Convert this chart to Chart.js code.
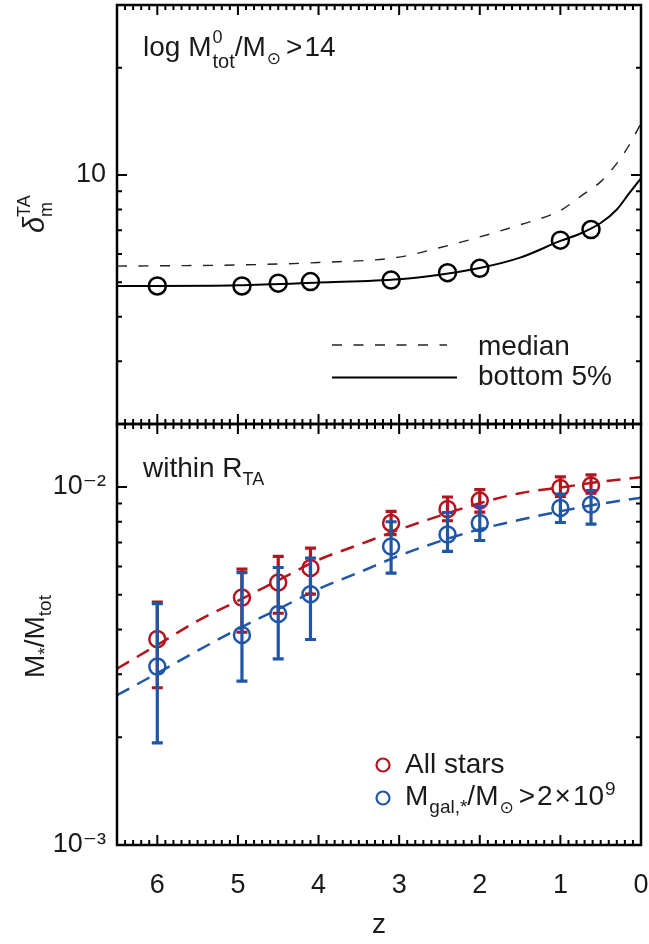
<!DOCTYPE html>
<html>
<head>
<meta charset="utf-8">
<script src="https://cdn.jsdelivr.net/npm/chart.js@4.4.1/dist/chart.umd.min.js"></script>
<style>
html, body { margin: 0; padding: 0; background: #fff; }
#wrap { position: relative; width: 649px; height: 944px; overflow: hidden; }
#wrap canvas { position: absolute; left: 0; }
#topPanel { top: 0; }
#botPanel { top: 420px; }
</style>
</head>
<body>
<div id="wrap">
  <canvas id="topPanel" width="649" height="430"></canvas>
  <canvas id="botPanel" width="649" height="524"></canvas>
</div>
<script>
var FONT = '"Liberation Sans", Arial, "DejaVu Sans", sans-serif';
var INK = '#1a1a1a';
var RED = '#b3141d', BLUE = '#1f56a8';

// snapshot redshifts (shared by both panels)
var zSnap = [6.0, 4.95, 4.5, 4.1, 3.1, 2.4, 2.0, 1.0, 0.62];
var zTicks = [0, 1, 2, 3, 4, 5, 6];

// top panel: turnaround overdensity
var deltaBottom5 = [4.88, 4.88, 4.97, 5.02, 5.07, 5.32, 5.47, 6.56, 7.03];
var zCurve = [6.5, 6, 5, 4, 3, 2.5, 2, 1.5, 1, 0.75, 0.5, 0.3, 0.15, 0];
var medianCurve = [5.55, 5.56, 5.59, 5.68, 5.88, 6.25, 6.70, 7.25, 7.95, 8.71, 9.58, 10.78, 12.1, 13.96];
var bottomCurve = [4.88, 4.88, 4.90, 4.99, 5.10, 5.25, 5.48, 5.86, 6.53, 6.85, 7.33, 8.0, 8.86, 9.79];
var deltaTicks = [10];

// bottom panel: stellar mass fraction within R_TA
var allStars   = [0.00376, 0.00491, 0.00541, 0.00594, 0.00793, 0.00868, 0.00917, 0.00994, 0.01010];
var allStarsHi = [0.00477, 0.00590, 0.00640, 0.00675, 0.00855, 0.00938, 0.00983, 0.01067, 0.01082];
var allStarsLo = [0.00275, 0.00393, 0.00444, 0.00502, 0.00736, 0.00805, 0.00851, 0.00941, 0.00962];
var galStars   = [0.00315, 0.00386, 0.00442, 0.00502, 0.00682, 0.00737, 0.00793, 0.00874, 0.00892];
var galStarsHi = [0.00472, 0.00577, 0.00596, 0.00633, 0.00800, 0.00849, 0.00883, 0.00956, 0.00978];
var galStarsLo = [0.00193, 0.00287, 0.00331, 0.00375, 0.00575, 0.00661, 0.00709, 0.00796, 0.00788];
var zFit = [6.5, 6, 5.5, 5, 4.5, 4, 3.5, 3, 2.5, 2, 1.5, 1, 0.5, 0];
var fitAll = [0.00311, 0.00362, 0.00423, 0.00481, 0.00549, 0.00626, 0.00690, 0.00760, 0.00831, 0.00901, 0.00961, 0.00997, 0.01035, 0.01065];
var fitGal = [0.00262, 0.00302, 0.00349, 0.00401, 0.00456, 0.00519, 0.00577, 0.00643, 0.00705, 0.00762, 0.00810, 0.00856, 0.00898, 0.00933];
var ratioTicks = [0.001, 0.01];

function pts(xs, ys) {
  return xs.map(function (x, i) { return {x: x, y: ys[i]}; });
}

function rich(ctx, x, y, parts) {
  parts.forEach(function (p) {
    ctx.font = (p.style || '') + ' ' + (p.size || 27) + 'px ' + FONT;
    x += (p.pre || 0);
    ctx.fillText(p.text, x, y + (p.dy || 0));
    var w = ctx.measureText(p.text).width;
    if (p.under) {
      ctx.font = p.under.size + 'px ' + FONT;
      ctx.fillText(p.under.text, x, y + p.under.dy);
      w = Math.max(w, ctx.measureText(p.under.text).width);
    }
    x += w + (p.gap || 0);
  });
}

function xScale(show) {
  var s = {
    type: 'linear', min: 0, max: 6.5, reverse: true, display: show,
    afterBuildTicks: function (s) { s.ticks = zTicks.map(function (v) { return {value: v}; }); },
    grid: {display: false, drawTicks: false},
    border: {display: false},
    ticks: {color: INK, font: {family: FONT, size: 27}, padding: 24, maxRotation: 0},
    title: {display: show, text: 'z', color: INK, font: {family: FONT, size: 28}, padding: {top: 0, bottom: 2}}
  };
  if (show) {
    s.afterFit = function (s) { s.height = 99; s.paddingLeft = 0; s.paddingRight = 0; };
  }
  return s;
}

function yScale(min, max, ticks, label) {
  return {
    type: 'logarithmic', min: min, max: max,
    afterBuildTicks: function (s) { s.ticks = ticks.map(function (v) { return {value: v}; }); },
    afterFit: function (s) { s.width = 117; s.paddingTop = 0; s.paddingBottom = 0; },
    grid: {display: false, drawTicks: false},
    border: {display: false},
    ticks: {color: INK, font: {family: FONT, size: 27}, padding: 11, callback: label}
  };
}

// box and inward tick marks on all four sides
function frame(yMajor, yMinor) {
  return {
    id: 'frame',
    afterDraw: function (chart) {
      var ctx = chart.ctx, a = chart.chartArea, x = chart.scales.x, y = chart.scales.y;
      ctx.save();
      ctx.strokeStyle = '#000';
      ctx.lineWidth = 2;
      ctx.beginPath();
      for (var i = 0; i <= 65; i++) {
        var v = i / 10;
        var len = (i % 10 === 0) ? 10 : 5;
        var px = x.getPixelForValue(v);
        ctx.moveTo(px, a.bottom); ctx.lineTo(px, a.bottom - len);
        ctx.moveTo(px, a.top); ctx.lineTo(px, a.top + len);
      }
      function ytick(v, len) {
        var py = y.getPixelForValue(v);
        ctx.moveTo(a.left, py); ctx.lineTo(a.left + len, py);
        ctx.moveTo(a.right, py); ctx.lineTo(a.right - len, py);
      }
      yMajor.forEach(function (v) { ytick(v, 10); });
      yMinor.forEach(function (v) { ytick(v, 5); });
      ctx.stroke();
      ctx.lineWidth = 2.5;
      ctx.strokeRect(a.left, a.top, a.right - a.left, a.bottom - a.top);
      ctx.restore();
    }
  };
}

var errorBars = {
  id: 'errorBars',
  beforeDatasetDraw: function (chart, args) {
    var ds = chart.data.datasets[args.index];
    if (!ds.errHi) return;
    var ctx = chart.ctx, x = chart.scales.x, y = chart.scales.y;
    ctx.save();
    ctx.strokeStyle = ds.borderColor;
    ctx.lineWidth = 3.2;
    ctx.beginPath();
    ds.data.forEach(function (p, i) {
      var px = x.getPixelForValue(p.x);
      var hi = y.getPixelForValue(ds.errHi[i]), lo = y.getPixelForValue(ds.errLo[i]);
      ctx.moveTo(px, hi); ctx.lineTo(px, lo);
      ctx.moveTo(px - 5.5, hi); ctx.lineTo(px + 5.5, hi);
      ctx.moveTo(px - 5.5, lo); ctx.lineTo(px + 5.5, lo);
    });
    ctx.stroke();
    ctx.restore();
  }
};

var topText = {
  id: 'topText',
  afterDraw: function (chart) {
    var ctx = chart.ctx, a = chart.chartArea;
    ctx.save();
    ctx.fillStyle = INK;
    ctx.textBaseline = 'alphabetic';
    ctx.textAlign = 'left';
    rich(ctx, a.left + 26, a.top + 51, [
      {text: 'log M', size: 28},
      {text: '0', size: 18, dy: -13, pre: 1, under: {text: 'tot', size: 20, dy: 12}},
      {text: '/M', size: 28},
      {text: '\u2299', size: 17, dy: 8, pre: 1, gap: 3},
      {text: '>', size: 28, pre: 2, gap: 2},
      {text: '14', size: 28}
    ]);
    // legend
    ctx.strokeStyle = '#222';
    ctx.lineWidth = 1.4;
    ctx.setLineDash([10, 11.5]);
    ctx.beginPath();
    ctx.moveTo(a.left + 215, a.top + 340); ctx.lineTo(a.left + 330, a.top + 340);
    ctx.stroke();
    ctx.setLineDash([]);
    ctx.strokeStyle = '#000';
    ctx.lineWidth = 2;
    ctx.beginPath();
    ctx.moveTo(a.left + 215, a.top + 372.5); ctx.lineTo(a.left + 340, a.top + 372.5);
    ctx.stroke();
    rich(ctx, a.left + 361, a.top + 350, [{text: 'median', size: 28}]);
    rich(ctx, a.left + 361, a.top + 380, [{text: 'bottom 5%', size: 28}]);
    // y title
    ctx.translate(44, 233);
    ctx.rotate(-Math.PI / 2);
    rich(ctx, 0, 0, [
      {text: '\u03b4', size: 29, style: 'italic'},
      {text: 'TA', size: 18, dy: -14, under: {text: 'm', size: 18, dy: 8}}
    ]);
    ctx.restore();
  }
};

var botText = {
  id: 'botText',
  afterDraw: function (chart) {
    var ctx = chart.ctx, a = chart.chartArea;
    ctx.save();
    ctx.fillStyle = INK;
    ctx.textBaseline = 'alphabetic';
    ctx.textAlign = 'left';
    rich(ctx, a.left + 26, a.top + 53, [
      {text: 'within R', size: 28},
      {text: 'TA', size: 18, dy: 8}
    ]);
    // legend
    ctx.lineWidth = 2.2;
    ctx.strokeStyle = RED;
    ctx.beginPath(); ctx.arc(a.left + 266, a.top + 341, 6.5, 0, Math.PI * 2); ctx.stroke();
    ctx.strokeStyle = BLUE;
    ctx.beginPath(); ctx.arc(a.left + 266, a.top + 374, 6.5, 0, Math.PI * 2); ctx.stroke();
    rich(ctx, a.left + 288, a.top + 349, [{text: 'All stars', size: 28}]);
    rich(ctx, a.left + 288, a.top + 381, [
      {text: 'M', size: 28},
      {text: 'gal,*', size: 19, dy: 8, pre: 1},
      {text: '/M', size: 28},
      {text: '\u2299', size: 17, dy: 8, pre: 1, gap: 3},
      {text: '>', size: 28, pre: 2, gap: 2},
      {text: '2', size: 28},
      {text: '\u00d7', size: 28, pre: 2, gap: 2},
      {text: '10', size: 28},
      {text: '9', size: 19, dy: -10, pre: 1}
    ]);
    // y title
    ctx.translate(44, 258);
    ctx.rotate(-Math.PI / 2);
    rich(ctx, 0, 0, [
      {text: 'M', size: 28},
      {text: '*', size: 19, dy: 7},
      {text: '/M', size: 28},
      {text: 'tot', size: 19, dy: 7}
    ]);
    ctx.restore();
  }
};

new Chart(document.getElementById('topPanel'), {
  type: 'scatter',
  data: {
    datasets: [
      {data: pts(zSnap, deltaBottom5), borderColor: '#000', backgroundColor: 'rgba(0,0,0,0)',
       pointRadius: 8.5, pointHoverRadius: 8.5, borderWidth: 2.5, order: 1},
      {data: pts(zCurve, bottomCurve), showLine: true, borderColor: '#000', borderWidth: 2,
       pointRadius: 0, cubicInterpolationMode: 'monotone', order: 2},
      {data: pts(zCurve, medianCurve), showLine: true, borderColor: '#222', borderWidth: 1.4,
       borderDash: [10, 11.5], pointRadius: 0, cubicInterpolationMode: 'monotone', order: 3}
    ]
  },
  options: {
    responsive: false, animation: false, events: [],
    layout: {autoPadding: false, padding: {top: 5, right: 8, bottom: 6, left: 0}},
    plugins: {legend: {display: false}, tooltip: {enabled: false}},
    scales: {
      x: xScale(false),
      y: yScale(2, 30, deltaTicks, function (v) { return String(v); })
    }
  },
  plugins: [frame(deltaTicks, [2, 3, 4, 5, 6, 7, 8, 9, 20, 30]), topText]
});

new Chart(document.getElementById('botPanel'), {
  type: 'scatter',
  data: {
    datasets: [
      {data: pts(zSnap, galStars), errHi: galStarsHi, errLo: galStarsLo, borderColor: BLUE,
       backgroundColor: 'rgba(0,0,0,0)', pointRadius: 8, pointHoverRadius: 8, borderWidth: 2.5, order: 1},
      {data: pts(zSnap, allStars), errHi: allStarsHi, errLo: allStarsLo, borderColor: RED,
       backgroundColor: 'rgba(0,0,0,0)', pointRadius: 8, pointHoverRadius: 8, borderWidth: 2.5, order: 2},
      {data: pts(zFit, fitGal), showLine: true, borderColor: BLUE, borderWidth: 2.5,
       borderDash: [14, 9], pointRadius: 0, cubicInterpolationMode: 'monotone', order: 3},
      {data: pts(zFit, fitAll), showLine: true, borderColor: RED, borderWidth: 2.5,
       borderDash: [14, 9], pointRadius: 0, cubicInterpolationMode: 'monotone', order: 4}
    ]
  },
  options: {
    responsive: false, animation: false, events: [],
    layout: {autoPadding: false, padding: {top: 4, right: 8, bottom: 0, left: 0}},
    plugins: {legend: {display: false}, tooltip: {enabled: false}},
    scales: {
      x: xScale(true),
      y: yScale(0.001, 0.015, ratioTicks, function (v) {
        return Math.round(Math.log10(v)) === -2 ? '10\u207b\u00b2' : '10\u207b\u00b3';
      })
    }
  },
  plugins: [frame(ratioTicks, [0.002, 0.003, 0.004, 0.005, 0.006, 0.007, 0.008, 0.009]), errorBars, botText]
});
</script>
</body>
</html>
